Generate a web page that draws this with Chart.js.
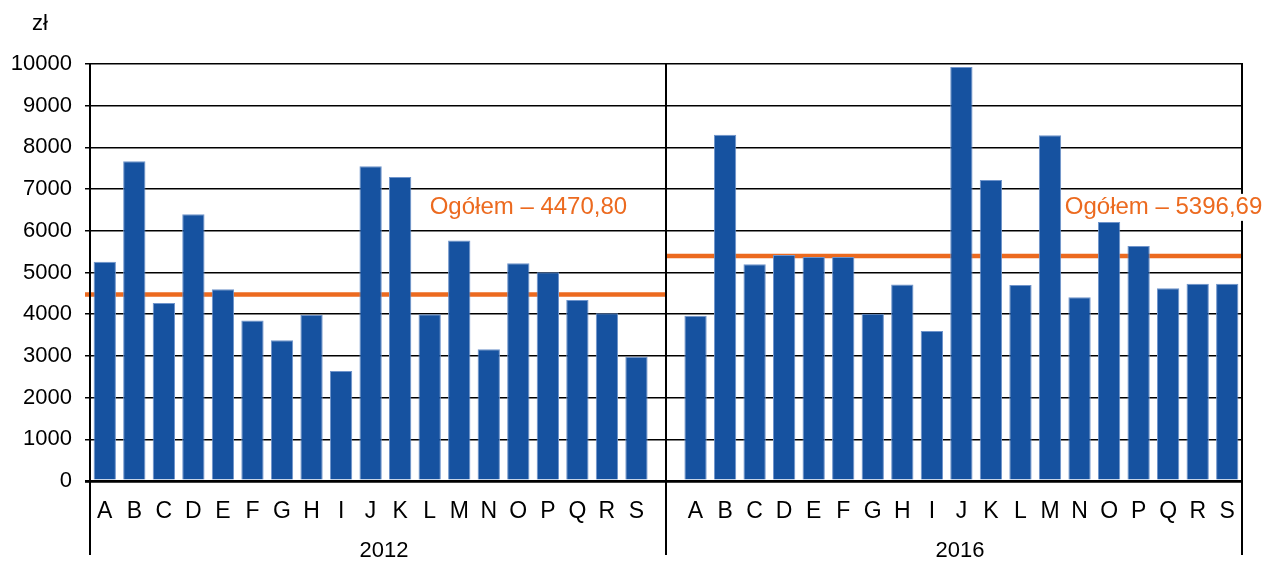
<!DOCTYPE html>
<html>
<head>
<meta charset="utf-8">
<script src="https://cdn.jsdelivr.net/npm/chart.js@4/dist/chart.umd.min.js"></script>
<style>
  html, body { margin: 0; padding: 0; background: #ffffff; }
  #wrap { width: 1263px; height: 563px; }
</style>
</head>
<body>
<div id="wrap"><canvas id="c" width="1263" height="563"></canvas></div>
<script>
// ---- data ----
const categories = ['A','B','C','D','E','F','G','H','I','J','K','L','M','N','O','P','Q','R','S'];
const groups = ['2012', '2016'];
const values2012 = [5260, 7670, 4270, 6395, 4600, 3850, 3375, 3980, 2640, 7550, 7290, 4000, 5770, 3160, 5220, 5005, 4340, 4020, 2980];
const values2016 = [3965, 8305, 5195, 5420, 5370, 5370, 4010, 4715, 3600, 9930, 7220, 4700, 8290, 4405, 6210, 5635, 4620, 4730, 4730];
const averages = [4470.80, 5396.69];
const averageLabel = 'Ogółem';
const unitLabel = 'zł';
const yMin = 0, yMax = 10000, yStep = 1000;

// ---- build ----
const FONT = "'Liberation Sans', Arial, sans-serif";
const labels = [...categories, '', ...categories];
const gapIndex = categories.length;
const barData = [...values2012, null, ...values2016];
const fmt = v => v.toFixed(2).replace('.', ',');

const BLUE = '#1652A0';
const ORANGE = '#EC6A1F';

const decor = {
  id: 'decor',
  beforeDatasetsDraw(chart) {
    const ctx = chart.ctx, x = chart.scales.x, y = chart.scales.y, a = chart.chartArea;
    const div = x.getPixelForValue(gapIndex);
    ctx.save();
    ctx.strokeStyle = ORANGE;
    ctx.lineWidth = 4.5;
    const spans = [[a.left - 5, div], [div, a.right]];
    averages.forEach((v, i) => {
      const py = y.getPixelForValue(v);
      ctx.beginPath();
      ctx.moveTo(spans[i][0], py);
      ctx.lineTo(spans[i][1], py);
      ctx.stroke();
    });
    ctx.restore();
  },
  afterDatasetsDraw(chart) {
    const ctx = chart.ctx, x = chart.scales.x, y = chart.scales.y, a = chart.chartArea;
    const div = x.getPixelForValue(gapIndex);
    const bottom = chart.height - 8;
    ctx.save();
    ctx.strokeStyle = '#000';
    ctx.lineWidth = 2;
    [a.left, div, a.right].forEach(px => {
      ctx.beginPath();
      ctx.moveTo(px, a.top - 1);
      ctx.lineTo(px, bottom);
      ctx.stroke();
    });
    // group labels
    ctx.fillStyle = '#000';
    ctx.font = '22px ' + FONT;
    ctx.textAlign = 'center';
    ctx.textBaseline = 'middle';
    ctx.fillText(groups[0], (a.left + div) / 2 + 6, 551);
    ctx.fillText(groups[1], (div + a.right) / 2 + 6, 551);
    // unit
    ctx.textAlign = 'left';
    ctx.fillText(unitLabel, 32, 24);
    // average labels
    ctx.font = '24px ' + FONT;
    const lblY = y.getPixelForValue(6550);
    const lblX = [x.getPixelForValue(11), x.getPixelForValue(gapIndex + 1 + 12.5)];
    averages.forEach((v, i) => {
      const t = averageLabel + ' – ' + fmt(v);
      const w = ctx.measureText(t).width;
      ctx.fillStyle = '#fff';
      ctx.fillRect(lblX[i] - 3, lblY - 14, w + 6, 27);
      ctx.fillStyle = ORANGE;
      ctx.fillText(t, lblX[i], lblY);
    });
    ctx.restore();
  }
};

new Chart(document.getElementById('c'), {
  type: 'bar',
  data: {
    labels: labels,
    datasets: [{
      data: barData,
      backgroundColor: BLUE,
      borderColor: '#6F94CB',
      borderWidth: 1,
      barPercentage: 0.755,
      categoryPercentage: 1.0
    }]
  },
  options: {
    responsive: false,
    animation: false,
    devicePixelRatio: 1,
    layout: { padding: { top: 64, right: 21, bottom: 0, left: 0 } },
    plugins: { legend: { display: false }, tooltip: { enabled: false }, title: { display: false } },
    scales: {
      x: {
        type: 'category',
        offset: true,
        grid: { display: false, drawTicks: false, tickLength: 0 },
        border: { display: false },
        ticks: {
          autoSkip: false, maxRotation: 0, minRotation: 0,
          color: '#000', padding: 17,
          font: { family: FONT, size: 23 }
        },
        afterFit(s) { s.height = 82; }
      },
      y: {
        min: yMin, max: yMax,
        grid: {
          color: '#000',
          lineWidth: c => (c.tick && c.tick.value === 0 ? 2.8 : 1.5),
          drawTicks: true, tickLength: 5
        },
        border: { display: false },
        ticks: {
          stepSize: yStep, color: '#000', padding: 13,
          font: { family: FONT, size: 22 },
          callback: v => String(v)
        },
        afterFit(s) { s.width = 90; }
      }
    }
  },
  plugins: [decor]
});
</script>
</body>
</html>
